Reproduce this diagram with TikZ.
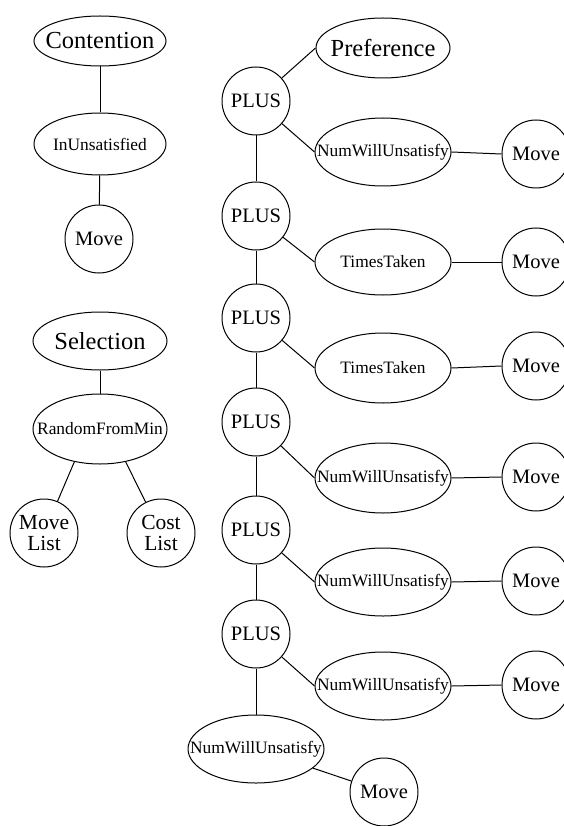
\documentclass[tikz,border=0pt]{standalone}
\usepackage{fontspec}
\setmainfont{Liberation Serif}
\usetikzlibrary{shapes.geometric}
\newcommand{\zwtext}[1]{\makebox[0pt]{#1}}
\begin{document}
\begin{tikzpicture}[x=1pt,y=-1pt,
  bigtxt/.style={font=\fontsize{24.5}{26}\selectfont},
  medtxt/.style={font=\fontsize{20.5}{22}\selectfont},
  smtxt/.style={font=\fontsize{17.4}{18}\selectfont},
  ell/.style={ellipse, draw, line width=1pt, inner sep=0pt},
  circ/.style={circle, draw, line width=1pt, inner sep=0pt, minimum size=68pt, medtxt},
  edge/.style={line width=1pt}]
\clip (0,0) rectangle (564,826);
\fill[white] (0,0) rectangle (564,826);
% left trees
\node[ell, bigtxt, minimum width=132pt, minimum height=50pt] (cont) at (100,41) {\zwtext{Contention}};
\node[ell, smtxt, minimum width=132pt, minimum height=62pt] (inuns) at (100,144) {\zwtext{InUnsatisfied}};
\node[circ] (moveA) at (99,239) {\zwtext{Move}};
\node[ell, bigtxt, minimum width=134pt, minimum height=58pt] (sel) at (100,341) {\zwtext{Selection}};
\node[ell, smtxt, minimum width=134pt, minimum height=70pt] (rfm) at (100,429) {\zwtext{RandomFromMin}};
\node[circ, align=center, font=\fontsize{21.5}{21}\selectfont] (mlist) at (44,533) {Move\\List};
\node[circ, align=center, font=\fontsize{21.5}{21}\selectfont] (clist) at (161,533) {Cost\\List};
\draw[edge] (cont) -- (inuns);
\draw[edge] (inuns) -- (moveA);
\draw[edge] (sel) -- (rfm);
\draw[edge] (rfm.-128) -- (mlist);
\draw[edge] (rfm.-52) -- (clist);
% right tree
\node[ell, bigtxt, minimum width=134pt, minimum height=60pt] (pref) at (383,48) {\zwtext{Preference}};
\node[circ] (p1) at (256,101) {\zwtext{PLUS}};
\node[circ] (p2) at (256,216) {\zwtext{PLUS}};
\node[circ] (p3) at (256,318) {\zwtext{PLUS}};
\node[circ] (p4) at (256,422) {\zwtext{PLUS}};
\node[circ] (p5) at (256,530) {\zwtext{PLUS}};
\node[circ] (p6) at (256,634) {\zwtext{PLUS}};
\node[ell, smtxt, minimum width=136pt, minimum height=68pt] (n1) at (383,152) {\zwtext{NumWillUnsatisfy}};
\node[ell, smtxt, minimum width=136pt, minimum height=66pt] (t1) at (383,262) {\zwtext{TimesTaken}};
\node[ell, smtxt, minimum width=136pt, minimum height=70pt] (t2) at (383,368) {\zwtext{TimesTaken}};
\node[ell, smtxt, minimum width=136pt, minimum height=70pt] (n4) at (383,478) {\zwtext{NumWillUnsatisfy}};
\node[ell, smtxt, minimum width=136pt, minimum height=68pt] (n5) at (383,582) {\zwtext{NumWillUnsatisfy}};
\node[ell, smtxt, minimum width=136pt, minimum height=68pt] (n6) at (383,686) {\zwtext{NumWillUnsatisfy}};
\node[ell, smtxt, minimum width=136pt, minimum height=68pt] (n7) at (256,749) {\zwtext{NumWillUnsatisfy}};
\node[circ] (m1) at (536,154) {\zwtext{Move}};
\node[circ] (m2) at (536,262) {\zwtext{Move}};
\node[circ] (m3) at (536,366) {\zwtext{Move}};
\node[circ] (m4) at (536,477) {\zwtext{Move}};
\node[circ] (m5) at (536,581) {\zwtext{Move}};
\node[circ] (m6) at (536,685) {\zwtext{Move}};
\node[circ] (m7) at (384,792) {\zwtext{Move}};
\draw[edge] (p1) -- (pref.west);
\foreach \a/\b in {p1/p2,p2/p3,p3/p4,p4/p5,p5/p6,p6/n7} \draw[edge] (\a) -- (\b);
\foreach \a/\b in {p1/n1,p2/t1,p3/t2,p4/n4,p5/n5,p6/n6} \draw[edge] (\a) -- (\b.west);
\foreach \a/\b in {n1/m1,t1/m2,t2/m3,n4/m4,n5/m5,n6/m6} \draw[edge] (\a.east) -- (\b.west);
\draw[edge] (n7) -- (m7);
\end{tikzpicture}
\end{document}
